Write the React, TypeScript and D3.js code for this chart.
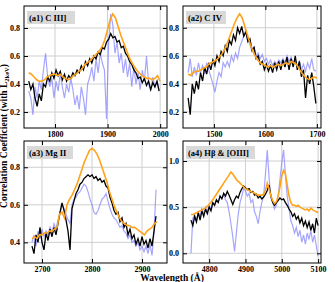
import React, { useEffect, useRef } from 'react';
import * as d3 from 'd3';

// (a1) C III]  -- black/blue sampled every 4 A from 1750, orange every 5 A
const a1Black = [0.42, 0.36, 0.40, 0.30, 0.24, 0.33, 0.28, 0.40, 0.38, 0.45, 0.42, 0.48, 0.44, 0.50, 0.46, 0.49, 0.43, 0.47, 0.42, 0.46, 0.44, 0.48, 0.46, 0.50, 0.48, 0.53, 0.50, 0.56, 0.53, 0.58, 0.55, 0.60, 0.58, 0.63, 0.61, 0.66, 0.65, 0.70, 0.72, 0.76, 0.73, 0.74, 0.70, 0.71, 0.66, 0.67, 0.62, 0.60, 0.56, 0.54, 0.50, 0.48, 0.44, 0.45, 0.41, 0.44, 0.39, 0.42, 0.36, 0.41, 0.38, 0.42, 0.35];
const a1Blue = [0.35, 0.30, 0.18, 0.38, 0.30, 0.42, 0.36, 0.50, 0.62, 0.45, 0.38, 0.44, 0.30, 0.42, 0.35, 0.48, 0.38, 0.30, 0.40, 0.34, 0.44, 0.36, 0.25, 0.32, 0.22, 0.38, 0.30, 0.18, 0.40, 0.45, 0.52, 0.42, 0.58, 0.48, 0.62, 0.55, 0.50, 0.15, 0.70, 0.90, 0.82, 0.62, 0.70, 0.55, 0.62, 0.48, 0.58, 0.45, 0.55, 0.38, 0.52, 0.40, 0.48, 0.36, 0.50, 0.42, 0.60, 0.40, 0.35, 0.45, 0.38, 0.42, 0.36];
const a1Orange = [0.48, 0.47, 0.45, 0.43, 0.42, 0.42, 0.43, 0.45, 0.46, 0.47, 0.47, 0.46, 0.47, 0.45, 0.44, 0.43, 0.44, 0.46, 0.47, 0.49, 0.50, 0.53, 0.55, 0.56, 0.58, 0.60, 0.62, 0.64, 0.67, 0.72, 0.79, 0.86, 0.90, 0.87, 0.81, 0.75, 0.70, 0.65, 0.60, 0.56, 0.53, 0.50, 0.48, 0.46, 0.45, 0.44, 0.44, 0.43, 0.44, 0.46, 0.42];

// (a2) C IV -- from 1450
const a2Black = [0.30, 0.18, 0.40, 0.33, 0.42, 0.36, 0.48, 0.42, 0.52, 0.47, 0.55, 0.50, 0.57, 0.53, 0.60, 0.56, 0.63, 0.60, 0.67, 0.63, 0.71, 0.68, 0.75, 0.71, 0.80, 0.76, 0.81, 0.74, 0.77, 0.70, 0.72, 0.64, 0.66, 0.58, 0.60, 0.54, 0.56, 0.50, 0.54, 0.49, 0.53, 0.48, 0.55, 0.50, 0.56, 0.50, 0.57, 0.52, 0.59, 0.50, 0.58, 0.52, 0.60, 0.50, 0.56, 0.45, 0.50, 0.30, 0.46, 0.40, 0.48, 0.38, 0.26];
const a2Blue = [0.48, 0.58, 0.45, 0.52, 0.46, 0.55, 0.48, 0.53, 0.47, 0.55, 0.50, 0.45, 0.40, 0.34, 0.42, 0.48, 0.45, 0.55, 0.52, 0.56, 0.52, 0.60, 0.56, 0.62, 0.58, 0.66, 0.70, 0.74, 0.78, 0.72, 0.68, 0.63, 0.66, 0.60, 0.62, 0.58, 0.61, 0.56, 0.58, 0.54, 0.57, 0.53, 0.56, 0.54, 0.57, 0.55, 0.58, 0.55, 0.60, 0.56, 0.59, 0.54, 0.57, 0.52, 0.56, 0.50, 0.54, 0.49, 0.55, 0.51, 0.58, 0.50, 0.49];
const a2Orange = [0.47, 0.46, 0.48, 0.49, 0.49, 0.50, 0.51, 0.52, 0.54, 0.55, 0.56, 0.57, 0.59, 0.61, 0.64, 0.68, 0.73, 0.78, 0.83, 0.87, 0.90, 0.87, 0.81, 0.75, 0.69, 0.64, 0.60, 0.57, 0.55, 0.54, 0.53, 0.52, 0.53, 0.52, 0.53, 0.54, 0.53, 0.54, 0.55, 0.54, 0.56, 0.55, 0.54, 0.51, 0.48, 0.46, 0.44, 0.43, 0.44, 0.45, 0.44];

// (a3) Mg II -- from 2680
const a3Black = [0.38, 0.34, 0.44, 0.40, 0.48, 0.40, 0.36, 0.45, 0.41, 0.47, 0.43, 0.48, 0.44, 0.50, 0.56, 0.61, 0.57, 0.52, 0.46, 0.36, 0.58, 0.62, 0.66, 0.68, 0.71, 0.72, 0.74, 0.75, 0.76, 0.75, 0.76, 0.74, 0.75, 0.73, 0.74, 0.72, 0.73, 0.70, 0.69, 0.64, 0.61, 0.57, 0.55, 0.56, 0.51, 0.53, 0.48, 0.50, 0.44, 0.47, 0.42, 0.44, 0.39, 0.42, 0.38, 0.43, 0.39, 0.41, 0.37, 0.42, 0.38, 0.46, 0.54];
const a3Blue = [0.40, 0.44, 0.38, 0.46, 0.42, 0.47, 0.43, 0.46, 0.44, 0.48, 0.45, 0.50, 0.47, 0.52, 0.55, 0.60, 0.58, 0.55, 0.52, 0.50, 0.60, 0.63, 0.64, 0.66, 0.67, 0.69, 0.71, 0.70, 0.67, 0.63, 0.60, 0.56, 0.55, 0.57, 0.60, 0.63, 0.64, 0.66, 0.62, 0.58, 0.55, 0.53, 0.52, 0.50, 0.48, 0.49, 0.46, 0.45, 0.42, 0.44, 0.40, 0.41, 0.38, 0.40, 0.36, 0.38, 0.35, 0.38, 0.34, 0.39, 0.33, 0.45, 0.68];
const a3Orange = [0.42, 0.43, 0.42, 0.44, 0.44, 0.45, 0.45, 0.46, 0.46, 0.47, 0.48, 0.55, 0.56, 0.53, 0.60, 0.63, 0.65, 0.68, 0.71, 0.75, 0.79, 0.83, 0.86, 0.89, 0.90, 0.89, 0.87, 0.84, 0.80, 0.76, 0.72, 0.67, 0.63, 0.59, 0.56, 0.53, 0.51, 0.50, 0.49, 0.49, 0.48, 0.48, 0.47, 0.46, 0.45, 0.44, 0.46, 0.47, 0.48, 0.50, 0.51];

// (a4) Hbeta & [OIII] -- every 5 A from 4750
const a4Black = [0.36, 0.30, 0.40, 0.34, 0.44, 0.36, 0.46, 0.40, 0.48, 0.43, 0.50, 0.46, 0.55, 0.52, 0.58, 0.55, 0.62, 0.59, 0.65, 0.62, 0.67, 0.63, 0.58, 0.53, 0.58, 0.62, 0.60, 0.66, 0.70, 0.73, 0.71, 0.69, 0.70, 0.66, 0.67, 0.63, 0.64, 0.60, 0.62, 0.59, 0.61, 0.64, 0.68, 0.74, 0.62, 0.55, 0.52, 0.55, 0.57, 0.60, 0.58, 0.59, 0.55, 0.52, 0.48, 0.45, 0.40, 0.43, 0.37, 0.40, 0.33, 0.38, 0.30, 0.35, 0.28, 0.34, 0.25, 0.32, 0.22, 0.38, 0.30];
const a4Blue = [0.00, 0.38, 0.42, 0.35, 0.45, 0.40, 0.48, 0.42, 0.50, 0.45, 0.52, 0.48, 0.55, 0.52, 0.58, 0.56, 0.62, 0.60, 0.63, 0.58, 0.55, 0.45, 0.32, 0.18, 0.02, 0.22, 0.42, 0.55, 0.62, 0.70, 0.68, 0.62, 0.65, 0.55, 0.58, 0.45, 0.40, 0.32, 0.45, 0.55, 0.62, 0.85, 1.12, 0.82, 0.60, 0.55, 0.48, 0.52, 0.62, 0.80, 0.98, 1.12, 0.85, 0.62, 0.48, 0.35, 0.30, 0.22, 0.28, 0.18, 0.25, 0.12, 0.20, 0.10, 0.22, 0.15, 0.25, 0.12, 0.20, 0.08, -0.03];
const a4Orange = [0.42, 0.42, 0.43, 0.44, 0.45, 0.46, 0.47, 0.48, 0.49, 0.51, 0.53, 0.55, 0.58, 0.61, 0.64, 0.67, 0.70, 0.73, 0.76, 0.79, 0.82, 0.85, 0.88, 0.86, 0.83, 0.80, 0.78, 0.76, 0.74, 0.72, 0.70, 0.69, 0.68, 0.67, 0.66, 0.65, 0.64, 0.63, 0.63, 0.63, 0.64, 0.68, 0.76, 0.70, 0.62, 0.57, 0.54, 0.56, 0.62, 0.72, 0.84, 0.90, 0.86, 0.74, 0.62, 0.55, 0.52, 0.52, 0.51, 0.52, 0.50, 0.49, 0.48, 0.47, 0.48, 0.46, 0.49, 0.47, 0.46, 0.45, 0.44];

const panelLabels = ['(a1) C III]', '(a2) C IV', '(a3) Mg II', '(a4) H\u03B2 & [OIII]'];
const xTickValues = [[1800, 1900, 2000], [1500, 1600, 1700], [2700, 2800, 2900], [4800, 4900, 5000, 5100]];
const yTickValues = [[0.2, 0.4, 0.6, 0.8], [0.2, 0.4, 0.6, 0.8], [0.4, 0.6, 0.8], [0.0, 0.5, 1.0]];

const FONT = '"Liberation Serif", "DejaVu Serif", serif';

const panels = [
  { black: a1Black, blue: a1Blue, orange: a1Orange, start: 1750, step: 4, oStep: 5, xDomain: [1741, 2013], yDomain: [0.086, 0.957], left: 24, right: 167, top: 6, bottom: 128, boxW: 48 },
  { black: a2Black, blue: a2Blue, orange: a2Orange, start: 1450, step: 4, oStep: 5, xDomain: [1440, 1708], yDomain: [0.085, 0.955], left: 183, right: 321, top: 6, bottom: 128, boxW: 40 },
  { black: a3Black, blue: a3Blue, orange: a3Orange, start: 2680, step: 4, oStep: 5, xDomain: [2664, 2950], yDomain: [0.29, 0.94], left: 24, right: 167, top: 141, bottom: 263, boxW: 46 },
  { black: a4Black, blue: a4Blue, orange: a4Orange, start: 4750, step: 5, oStep: 5, xDomain: [4728, 5108], yDomain: [-0.105, 1.217], left: 183, right: 321, top: 141, bottom: 263, boxW: 69 },
];

const App = () => {
  const svgRef = useRef(null);

  useEffect(() => {
    const svg = d3.select(svgRef.current);
    svg.selectAll('*').remove();

    panels.forEach((p, k) => {
      const x = d3.scaleLinear().domain(p.xDomain).range([p.left, p.right]);
      const y = d3.scaleLinear().domain(p.yDomain).range([p.bottom, p.top]);
      const g = svg.append('g');

      // grid
      g.selectAll('.gx').data(xTickValues[k]).enter().append('line')
        .attr('x1', d => x(d)).attr('x2', d => x(d))
        .attr('y1', p.top).attr('y2', p.bottom)
        .attr('stroke', '#cfcfcf').attr('stroke-width', 1);
      g.selectAll('.gy').data(yTickValues[k]).enter().append('line')
        .attr('x1', p.left).attr('x2', p.right)
        .attr('y1', d => y(d)).attr('y2', d => y(d))
        .attr('stroke', '#cfcfcf').attr('stroke-width', 1);

      // clip
      const clipId = 'clip' + k;
      svg.append('clipPath').attr('id', clipId).append('rect')
        .attr('x', p.left).attr('y', p.top)
        .attr('width', p.right - p.left).attr('height', p.bottom - p.top);

      const lines = g.append('g').attr('clip-path', `url(#${clipId})`);
      const mk = (step) => d3.line().x((d, i) => x(p.start + i * step)).y(d => y(d));

      lines.append('path').attr('d', mk(p.step)(p.blue))
        .attr('fill', 'none').attr('stroke', '#7f7fff').attr('stroke-opacity', 0.7).attr('stroke-width', 1.2);
      lines.append('path').attr('d', mk(p.step)(p.black))
        .attr('fill', 'none').attr('stroke', '#000').attr('stroke-width', 1.3);
      lines.append('path').attr('d', mk(p.oStep)(p.orange))
        .attr('fill', 'none').attr('stroke', '#ffa31a').attr('stroke-width', 1.6);

      // panel label
      g.append('rect').attr('x', p.left + 3).attr('y', p.top + 5)
        .attr('width', p.boxW).attr('height', 13).attr('fill', '#d9d9d9');
      g.append('text').attr('x', p.left + 5).attr('y', p.top + 15)
        .attr('font-family', FONT).attr('font-weight', 'bold').attr('font-size', 8.5)
        .text(panelLabels[k]);

      // axes, ticks pointing in
      const fmt = d3.format('.1f');
      const bottomAxis = g.append('g').attr('transform', `translate(0,${p.bottom})`)
        .call(d3.axisBottom(x).tickValues(xTickValues[k]).tickFormat(d3.format('d')).tickSize(-4).tickPadding(3));
      const leftAxis = g.append('g').attr('transform', `translate(${p.left},0)`)
        .call(d3.axisLeft(y).tickValues(yTickValues[k]).tickFormat(fmt).tickSize(-4).tickPadding(4));
      g.append('g').attr('transform', `translate(0,${p.top})`)
        .call(d3.axisTop(x).tickValues(xTickValues[k]).tickSize(-4).tickFormat(() => ''));
      g.append('g').attr('transform', `translate(${p.right},0)`)
        .call(d3.axisRight(y).tickValues(yTickValues[k]).tickSize(-4).tickFormat(() => ''));

      [bottomAxis, leftAxis].forEach(a => a.selectAll('text')
        .attr('font-family', FONT).attr('font-weight', 'bold').attr('font-size', 8).attr('fill', '#000'));
      g.selectAll('.domain').remove();
      g.selectAll('.tick line').attr('stroke', '#000');

      // frame
      g.append('rect').attr('x', p.left).attr('y', p.top)
        .attr('width', p.right - p.left).attr('height', p.bottom - p.top)
        .attr('fill', 'none').attr('stroke', '#000').attr('stroke-width', 1);
    });

    // axis titles
    const yl = svg.append('text')
      .attr('transform', 'translate(7,136) rotate(-90)')
      .attr('text-anchor', 'middle')
      .attr('font-family', FONT).attr('font-weight', 'bold').attr('font-size', 9.5);
    yl.append('tspan').text('Correlation Coefficient (with L');
    yl.append('tspan').attr('font-size', 6.5).attr('dy', 2).text('2keV');
    yl.append('tspan').attr('dy', -2).text(')');

    svg.append('text').attr('x', 172).attr('y', 281)
      .attr('text-anchor', 'middle')
      .attr('font-family', FONT).attr('font-weight', 'bold').attr('font-size', 9.5)
      .text('Wavelength (\u00C5)');
  }, []);

  return (
    <svg ref={svgRef} width={335} height={282}
      style={{ position: 'absolute', left: 0, top: 0, background: '#fff' }} />
  );
};

export default App;
